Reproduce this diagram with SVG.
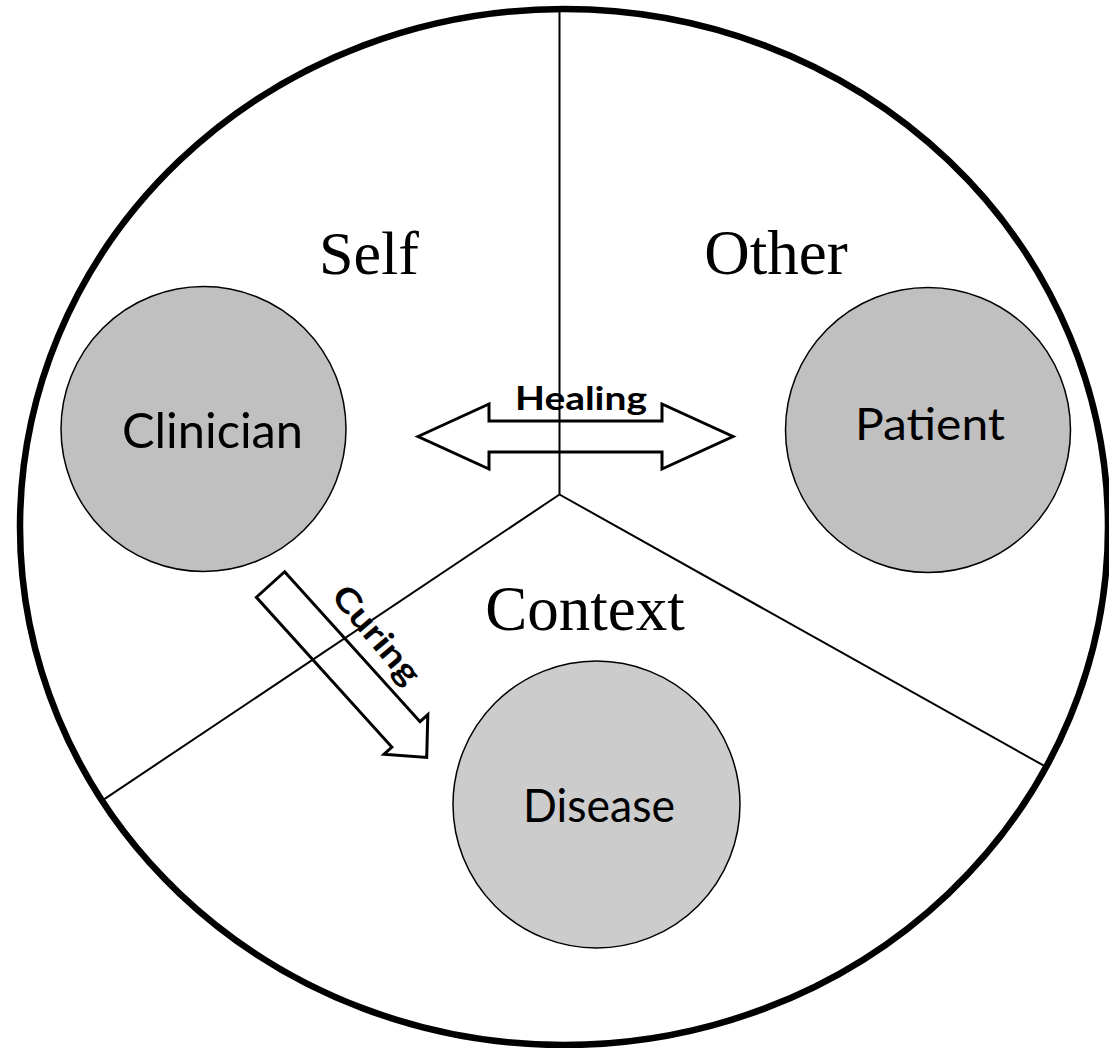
<svg xmlns="http://www.w3.org/2000/svg" width="1109" height="1048" viewBox="0 0 1109 1048">
  <style>
    .frame { fill: #ffffff; stroke: #000000; stroke-width: 6.5; }
    .divider { fill: none; stroke: #000000; stroke-width: 2; }
    .node { stroke: #000000; stroke-width: 1.5; }
    .blockarrow { fill: none; stroke: #000000; stroke-width: 3; stroke-linejoin: miter; }
    .region { font-family: "Liberation Serif", "Times New Roman", serif; fill: #000000; text-anchor: middle; }
    .label { font-family: Lato, "Open Sans", "Liberation Sans", sans-serif; fill: #000000; text-anchor: middle; }
    .arrowlabel { font-family: Lato, "Open Sans", "Liberation Sans", sans-serif; font-weight: bold; fill: #000000; text-anchor: middle; }
  </style>
  <rect x="0" y="0" width="1109" height="1048" fill="#ffffff"/>
  <g id="frame">
    <ellipse class="frame" cx="564" cy="527" rx="544" ry="518"/>
  </g>
  <g id="region-labels">
    <text id="label-self" class="region" x="369" y="274" font-size="62">Self</text>
    <text id="label-other" class="region" x="776" y="274" font-size="63">Other</text>
    <text id="label-context" class="region" x="585" y="630" font-size="63">Context</text>
  </g>
  <g id="node-clinician">
    <circle class="node" cx="203.5" cy="429" r="142.5" fill="#c0c0c0"/>
    <text class="label" x="212.5" y="448" font-size="48" textLength="181" lengthAdjust="spacingAndGlyphs">Clinician</text>
  </g>
  <g id="node-patient">
    <circle class="node" cx="928" cy="430" r="142.5" fill="#c0c0c0"/>
    <text class="label" x="930" y="440" font-size="45" textLength="150" lengthAdjust="spacingAndGlyphs">Patient</text>
  </g>
  <g id="node-disease">
    <circle class="node" cx="596.5" cy="804.5" r="143.5" fill="#cccccc"/>
    <text class="label" x="599" y="821.5" font-size="46" textLength="152" lengthAdjust="spacingAndGlyphs">Disease</text>
  </g>
  <g id="connectors">
    <g id="dividers">
      <line class="divider" x1="559.5" y1="9" x2="559.5" y2="494.5"/>
      <line class="divider" x1="559.5" y1="494.5" x2="102.1" y2="800.6"/>
      <line class="divider" x1="559.5" y1="494.5" x2="1046.1" y2="766.9"/>
    </g>
    <g id="arrow-healing">
      <polygon class="blockarrow" points="418,436.5 489,404 489,421 662,421 662,404 733,436.5 662,469 662,452 489,452 489,469"/>
      <text class="arrowlabel" x="581" y="410" font-size="33" textLength="132" lengthAdjust="spacingAndGlyphs">Healing</text>
    </g>
    <g id="arrow-curing">
      <polygon class="blockarrow" transform="translate(270.5,584.5) rotate(47.9)" points="0,-19 202,-19 202,-29.5 233,0 202,29.5 202,19 0,19"/>
      <text class="arrowlabel" transform="translate(368,642) rotate(50)" x="0" y="0" font-size="33" textLength="118" lengthAdjust="spacingAndGlyphs">Curing</text>
    </g>
  </g>
</svg>
